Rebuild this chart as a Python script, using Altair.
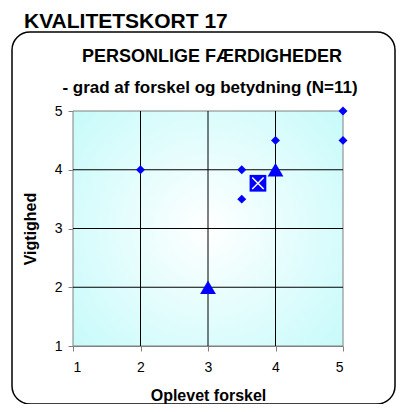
import altair as alt
import pandas as pd

# Data
diamond_x = [2, 3.5, 3.5, 4, 5, 5]
diamond_y = [4, 4, 3.5, 4.5, 5, 4.5]
tri_x = [3, 4]
tri_y = [2, 4]
mean_x = [3.74]
mean_y = [3.77]
ticks = [1, 2, 3, 4, 5]

main_title = "KVALITETSKORT 17"
sub1 = "PERSONLIGE FÆRDIGHEDER"
sub2 = "- grad af forskel og betydning (N=11)"
x_title = "Oplevet forskel"
y_title = "Vigtighed"

FONT = "Liberation Sans"
BLUE = "#0000FF"

dia = pd.DataFrame({"x": diamond_x, "y": diamond_y})
tri = pd.DataFrame({"x": tri_x, "y": tri_y})
mean = pd.DataFrame({"x": mean_x, "y": mean_y})
bg = pd.DataFrame({"x": [ticks[0]], "x2": [ticks[-1]], "y": [ticks[0]], "y2": [ticks[-1]]})
grid = pd.DataFrame({"v": ticks[1:-1]})

xs = alt.Scale(domain=[1, 5], nice=False, zero=False)
ys = alt.Scale(domain=[1, 5], nice=False, zero=False)

xaxis = alt.Axis(values=ticks, title=x_title, grid=False,
                 domainColor="#808080", tickColor="#808080", tickSize=5,
                 labelFont=FONT, labelFontSize=14, labelColor="#000",
                 labelPadding=9, titleFont=FONT, titleFontSize=16, titleFontWeight="bold",
                 titleColor="#000", titlePadding=13, format="d")
yaxis = alt.Axis(values=ticks, title=y_title, grid=False,
                 domainColor="#808080", tickColor="#808080", tickSize=5,
                 labelFont=FONT, labelFontSize=14, labelColor="#000",
                 labelPadding=6, titleFont=FONT, titleFontSize=16, titleFontWeight="bold",
                 titleColor="#000", titlePadding=16, format="d")

gradient = {
    "gradient": "radial",
    "x1": 0.5, "y1": 0.5, "r1": 0,
    "x2": 0.5, "y2": 0.5, "r2": 0.7,
    "stops": [
        {"offset": 0, "color": "#FFFFFF"},
        {"offset": 1, "color": "#C4FAFA"},
    ],
}

bg_layer = alt.Chart(bg).mark_rect(fill=gradient, stroke="#808080", strokeWidth=1).encode(
    x=alt.X("x:Q", scale=xs, axis=xaxis),
    x2="x2:Q",
    y=alt.Y("y:Q", scale=ys, axis=yaxis),
    y2="y2:Q",
)
vgrid = alt.Chart(grid).mark_rule(color="#000000", strokeWidth=1).encode(
    x=alt.X("v:Q", scale=xs)
)
hgrid = alt.Chart(grid).mark_rule(color="#000000", strokeWidth=1).encode(
    y=alt.Y("v:Q", scale=ys)
)

base_dia = alt.Chart(dia).mark_point(shape="diamond", filled=True, color=BLUE, size=80, opacity=1).encode(
    x=alt.X("x:Q", scale=xs),
    y=alt.Y("y:Q", scale=ys),
)
tri_layer = alt.Chart(tri).mark_point(shape="triangle-up", filled=True, color=BLUE, size=250, opacity=1).encode(
    x=alt.X("x:Q", scale=xs), y=alt.Y("y:Q", scale=ys)
)
mean_sq = alt.Chart(mean).mark_point(shape="square", filled=True, color=BLUE, size=280, opacity=1).encode(
    x=alt.X("x:Q", scale=xs), y=alt.Y("y:Q", scale=ys)
)
mean_x_mark = alt.Chart(mean).mark_point(shape="M-1,-1L1,1M1,-1L-1,1", filled=False, stroke="white",
                                         strokeWidth=1.5, size=130, opacity=1).encode(
    x=alt.X("x:Q", scale=xs), y=alt.Y("y:Q", scale=ys)
)

one = alt.Data(values=[{}])
frame = alt.Chart(one).mark_rect(fill="white", fillOpacity=0, stroke="black", strokeWidth=1.5,
                                 cornerRadius=18).encode(
    x=alt.value(-61), x2=alt.value(322), y=alt.value(-79), y2=alt.value(293)
)
t_main = alt.Chart(one).mark_text(text=main_title, font=FONT, fontSize=21, fontWeight="bold",
                                  align="left", baseline="alphabetic", color="#000").encode(
    x=alt.value(-49), y=alt.value(-83)
)
t_sub1 = alt.Chart(one).mark_text(text=sub1, font=FONT, fontSize=18, fontWeight="bold",
                                  align="center", baseline="alphabetic", color="#000").encode(
    x=alt.value(139), y=alt.value(-49)
)
t_sub2 = alt.Chart(one).mark_text(text=sub2, font=FONT, fontSize=17, fontWeight="bold",
                                  align="center", baseline="alphabetic", color="#000").encode(
    x=alt.value(137), y=alt.value(-18)
)

chart = alt.layer(bg_layer, vgrid, hgrid, base_dia, tri_layer, mean_sq, mean_x_mark,
                  frame, t_main, t_sub1, t_sub2).properties(
    width=270, height=235,
    autosize=alt.AutoSizeParams(type="none"),
    padding={"left": 65, "top": 103, "right": 53, "bottom": 58},
).configure_view(stroke=None)

chart.save("out.html", embed_options={"renderer": "svg", "actions": False})
